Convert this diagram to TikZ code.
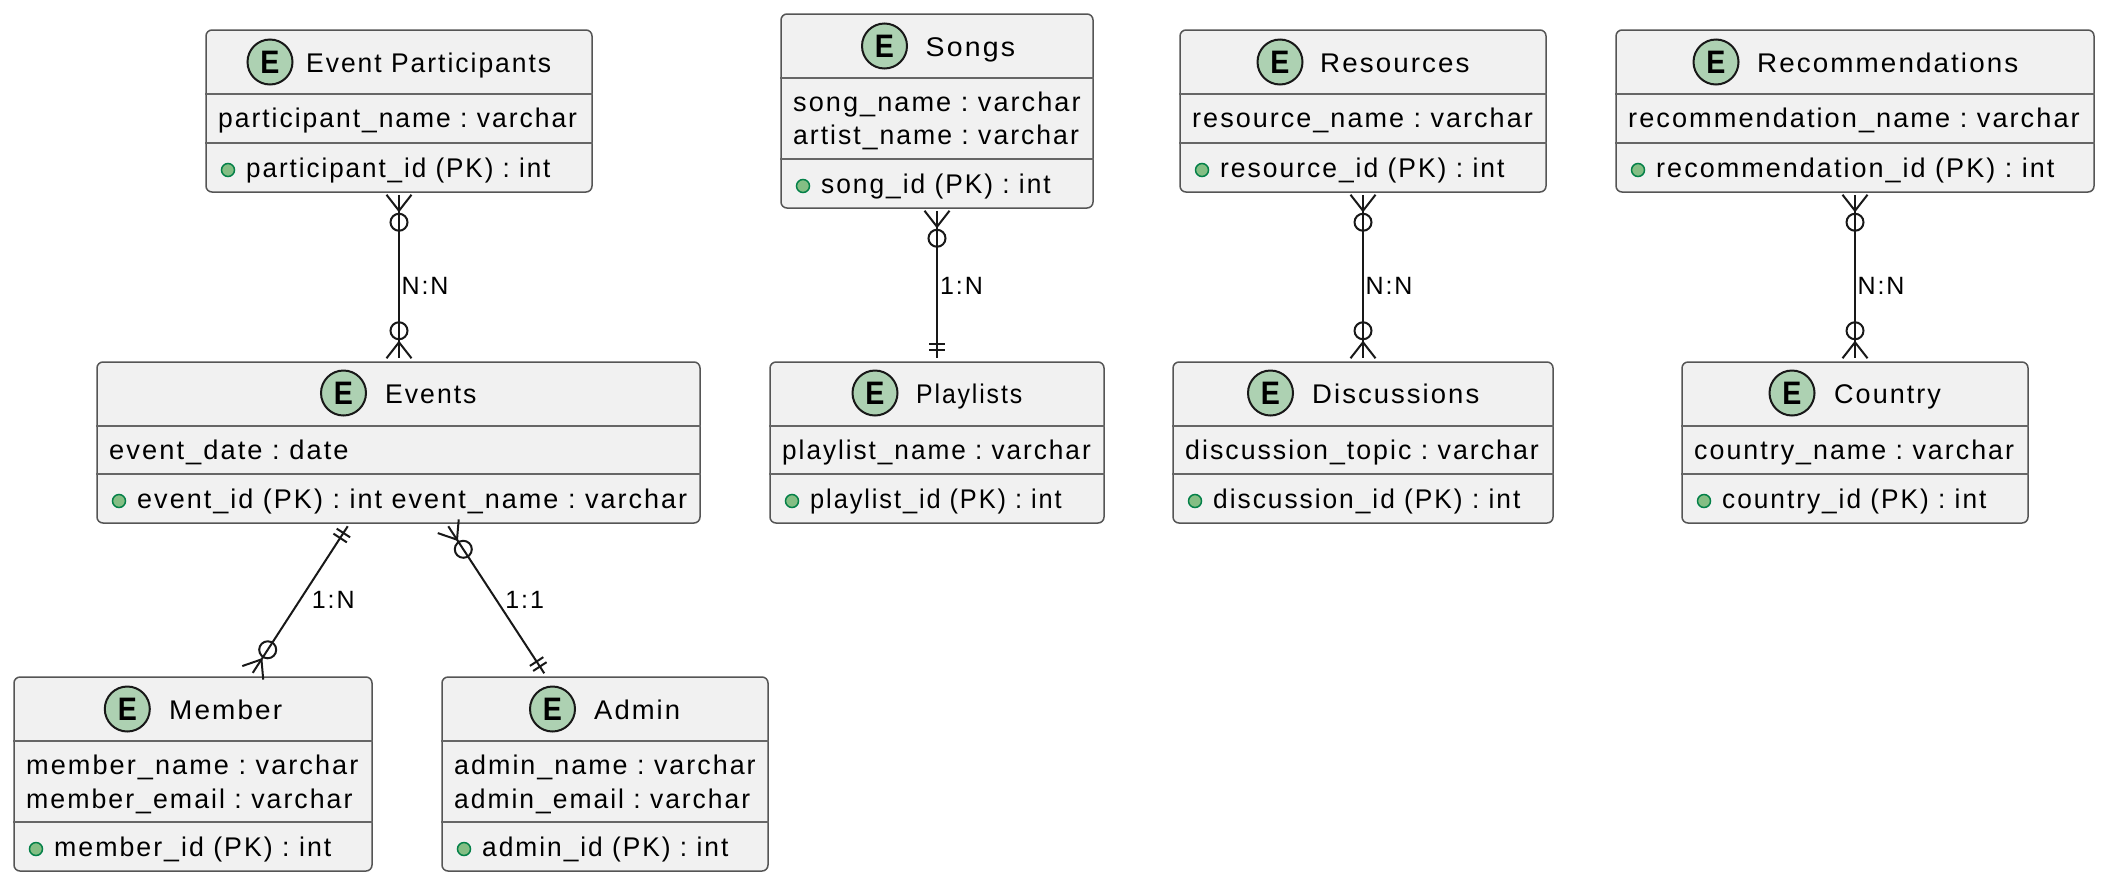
\documentclass[tikz,border=0pt]{standalone}
\usepackage{fontspec}
\setmainfont{Liberation Sans}[LetterSpace=7.5]
\usetikzlibrary{calc}
\frenchspacing
\definecolor{boxfill}{HTML}{F1F1F1}
\definecolor{boxline}{HTML}{555555}
\definecolor{sepline}{HTML}{666666}
\definecolor{ink}{HTML}{181818}
\definecolor{badge}{HTML}{ADD1B2}
\definecolor{pkfill}{HTML}{84BE84}
\definecolor{pkline}{HTML}{038048}
\tikzset{
  entbox/.style={draw=boxline,fill=boxfill,line width=1.5pt,rounded corners=6pt,inner sep=0pt,rectangle},
  entsep/.style={draw=sepline,line width=1.5pt},
  badgeC/.style={circle,draw=ink,fill=badge,line width=2pt,minimum size=45pt,inner sep=0pt},
  badgeE/.style={inner sep=0pt,text=black,font=\fontsize{32.5}{33}\selectfont\bfseries},
  entxt/.style={anchor=base west,inner sep=0pt,text=black,font=\fontsize{27}{27}\selectfont},
  pkdot/.style={circle,draw=pkline,fill=pkfill,line width=1.5pt,minimum size=13pt,inner sep=0pt},
  conn/.style={draw=ink,line width=2pt},
  rel/.style={anchor=base west,inner sep=0pt,text=black,font=\fontsize{25}{25}\selectfont},
}
\def\rowshift{0}
\newcommand\sx[2]{\scalebox{#1}[1]{#2}}
% name x1 y1 x2 y2 sep1 sep2 badge-x title-x
\newcommand\entbox[9]{%
  \node[entbox,minimum width={#4-#2},minimum height={#5-#3}] (#1) at ({(#2+#4)/2},{(#3+#5)/2}) {};
  \draw[entsep] (#1.west |- 0,#6) -- (#1.east |- 0,#6);
  \draw[entsep] (#1.west |- 0,#7) -- (#1.east |- 0,#7);
  \node[badgeC] (#1-badge) at (#8,#3+32+\rowshift) {};
  \node[badgeE] (#1-e) at (#1-badge.center) {\scalebox{.88}[1]{E}};
  \coordinate (#1-tx) at (#9,#3+42+\rowshift);
  \coordinate (#1-pkbase) at (#2,#7+34);
  \coordinate (#1-left) at (#2,#3);
}
\newcommand\enttitle[2]{\node[entxt] (#1-title) at (#1-tx) {#2};}
\newcommand\entfield[4]{\node[entxt] (#1-f#2) at ($(#1-left)+(12,#3)$) {#4};}
\newcommand\entpk[2]{%
  \node[pkdot] (#1-dot) at ($(#1-pkbase)+(22,-7)$) {};
  \node[entxt] (#1-pk) at ($(#1-pkbase)+(40,0)$) {#2};}
\newcommand\zeromany[2]{%
  \draw[conn] ($(#1)!16pt!(#2)$) -- ($(#1)!12.5pt!90:(#2)$);
  \draw[conn] ($(#1)!16pt!(#2)$) -- ($(#1)!12.5pt!-90:(#2)$);
  \draw[conn] ($(#1)!27.5pt!(#2)$) circle[radius=8.5pt];}
\newcommand\exactone[2]{%
  \draw[conn] ($(#1)!8pt!(#2)!8pt!90:(#2)$) -- ($(#1)!8pt!(#2)!8pt!-90:(#2)$);
  \draw[conn] ($(#1)!14pt!(#2)!8pt!90:(#2)$) -- ($(#1)!14pt!(#2)!8pt!-90:(#2)$);}
\begin{document}
\begin{tikzpicture}[x=1pt,y=-1pt]
\useasboundingbox (0,0) rectangle (2108,884);

\entbox{part}{206}{30}{592}{192}{94}{143}{270}{306}
\enttitle{part}{\sx{.98}{Event Participants}}
\entfield{part}{1}{97}{\sx{.98}{participant\_name : varchar}}
\entpk{part}{\sx{.964}{participant\_id (PK) : int}}

\entbox{songs}{781}{14}{1093}{208}{78}{159}{884.5}{925.5}
\enttitle{songs}{\sx{1.055}{Songs}}
\entfield{songs}{1}{97}{\sx{1.005}{song\_name : varchar}}
\entfield{songs}{2}{130}{\sx{.985}{artist\_name : varchar}}
\entpk{songs}{\sx{.975}{song\_id (PK) : int}}

\entbox{res}{1180}{30}{1546}{192}{94}{143}{1280}{1320}
\enttitle{res}{\sx{1.027}{Resources}}
\entfield{res}{1}{97}{resource\_name : varchar}
\entpk{res}{\sx{.98}{resource\_id (PK) : int}}

\entbox{rec}{1616}{30}{2094}{192}{94}{143}{1716}{1757}
\enttitle{rec}{\sx{1.03}{Recommendations}}
\entfield{rec}{1}{97}{\sx{1.006}{recommendation\_name : varchar}}
\entpk{rec}{recommendation\_id (PK) : int}

\def\rowshift{-1}
\entbox{events}{97}{362}{700}{523}{426}{474}{343.5}{385}
\enttitle{events}{\sx{.985}{Events}}
\entfield{events}{1}{97}{\sx{1.01}{event\_date : date}}
\entpk{events}{event\_id (PK) : int event\_name : varchar}

\entbox{play}{770}{362}{1104}{523}{426}{474}{875}{916}
\enttitle{play}{\sx{.92}{Playlists}}
\entfield{play}{1}{97}{\sx{.97}{playlist\_name : varchar}}
\entpk{play}{\sx{.94}{playlist\_id (PK) : int}}

\entbox{disc}{1173}{362}{1553}{523}{426}{474}{1270.5}{1312}
\enttitle{disc}{\sx{1.017}{Discussions}}
\entfield{disc}{1}{97}{\sx{.99}{discussion\_topic : varchar}}
\entpk{disc}{\sx{.975}{discussion\_id (PK) : int}}

\entbox{country}{1682}{362}{2028}{523}{426}{474}{1792}{1834}
\enttitle{country}{Country}
\entfield{country}{1}{97}{\sx{.993}{country\_name : varchar}}
\entpk{country}{\sx{.973}{country\_id (PK) : int}}

\def\rowshift{0}
\entbox{member}{14}{677}{372}{871}{741}{822}{127.3}{169}
\enttitle{member}{\sx{1.035}{Member}}
\entfield{member}{1}{97}{\sx{1.005}{member\_name : varchar}}
\entfield{member}{2}{131}{\sx{.99}{member\_email : varchar}}
\entpk{member}{\sx{.99}{member\_id (PK) : int}}

\entbox{admin}{442}{677}{768}{871}{741}{822}{552.5}{594}
\enttitle{admin}{\sx{1.015}{Admin}}
\entfield{admin}{1}{97}{\sx{.995}{admin\_name : varchar}}
\entfield{admin}{2}{131}{\sx{.98}{admin\_email : varchar}}
\entpk{admin}{\sx{.975}{admin\_id (PK) : int}}

% connectors
\coordinate (c1a) at ($(part.south)+(0,2)$);
\coordinate (c1b) at ($(part.south |- events.north)+(0,-3)$);
\draw[conn] (c1a) -- (c1b);
\zeromany{c1a}{c1b}\zeromany{c1b}{c1a}
\node[rel] (l1) at ($(part.south)+(2.5,102)$) {N:N};

\coordinate (c2a) at ($(songs.south)+(0,2)$);
\coordinate (c2b) at ($(songs.south |- play.north)+(0,-3)$);
\draw[conn] (c2a) -- (c2b);
\zeromany{c2a}{c2b}\exactone{c2b}{c2a}
\node[rel] (l2) at ($(songs.south)+(3,86)$) {1:N};

\coordinate (c3a) at ($(res.south)+(0,2)$);
\coordinate (c3b) at ($(res.south |- disc.north)+(0,-3)$);
\draw[conn] (c3a) -- (c3b);
\zeromany{c3a}{c3b}\zeromany{c3b}{c3a}
\node[rel] (l3) at ($(res.south)+(2.5,102)$) {N:N};

\coordinate (c4a) at ($(rec.south)+(0,2)$);
\coordinate (c4b) at ($(rec.south |- country.north)+(0,-3)$);
\draw[conn] (c4a) -- (c4b);
\zeromany{c4a}{c4b}\zeromany{c4b}{c4a}
\node[rel] (l4) at ($(rec.south)+(2.5,102)$) {N:N};

\coordinate (c5a) at ($(events.south west)+(251.5,2.5)$);
\coordinate (c5b) at ($(member.north west)+(239.5,-3.4)$);
\draw[conn] (c5a) -- (c5b);
\exactone{c5a}{c5b}\zeromany{c5b}{c5a}
\node[rel] (l5) at ($(events.south west)+(215.5,85)$) {1:N};

\coordinate (c6a) at ($(events.south west)+(352,2.5)$);
\coordinate (c6b) at ($(admin.north west)+(103,-3)$);
\draw[conn] (c6a) -- (c6b);
\zeromany{c6a}{c6b}\exactone{c6b}{c6a}
\node[rel] (l6) at ($(events.south west)+(409,85)$) {1:1};
\end{tikzpicture}
\end{document}
